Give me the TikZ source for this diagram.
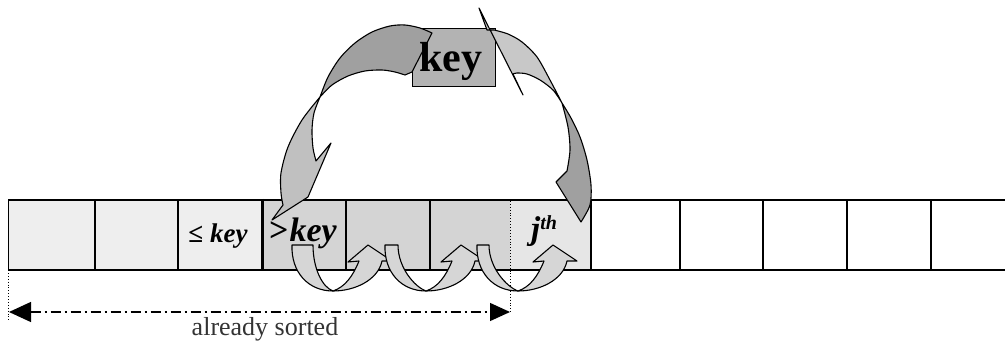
\documentclass[tikz,border=0pt]{standalone}
\usepackage{fontspec}
\setmainfont{Liberation Serif}
\usetikzlibrary{arrows.meta}
\definecolor{lightcell}{HTML}{EEEEEE}
\definecolor{midcell}{HTML}{D4D4D4}
\definecolor{jcell}{HTML}{E6E6E6}
\definecolor{keyfill}{HTML}{B3B3B3}
\definecolor{darkband}{HTML}{A0A0A0}
\definecolor{lightbandL}{HTML}{C0C0C0}
\definecolor{lightbandR}{HTML}{C8C8C8}
\definecolor{smallfill}{HTML}{D6D6D6}
\definecolor{sortgray}{HTML}{333333}
\begin{document}
\begin{tikzpicture}[x=1pt,y=-1pt,
  band/.style={draw=black,line width=1.1pt,line join=round},
  arrline/.style={draw=black,line width=1.6pt},
  uarrow/.style={draw=black,fill=smallfill,line width=1.1pt,line join=round},
  celltext/.style={anchor=base,inner sep=0pt},
  dotline/.style={draw=black,dotted,line width=0.9pt}]
\useasboundingbox (0,0) rectangle (1005,342);

% cell fills
\fill[lightcell] (8,200) rectangle (262,270);
\fill[midcell] (262,200) rectangle (510,270);
\fill[jcell] (510,200) rectangle (591,270);

% array lines
\draw[arrline] (8,200) -- (1005,200);
\draw[arrline] (8,270) -- (1005,270);
\foreach \x in {95,178,346,430,591,680,763,847,931} \draw[arrline] (\x,200) -- (\x,270);
\draw[draw=black,line width=3pt] (262,199) -- (262,271);
\draw[draw=black,line width=1pt] (8,200) -- (8,270);
\draw[dotline] (510,201) -- (510,312);
\draw[dotline] (8,270) -- (8,320);

% small U-turn arrows
\foreach \dx/\tw in {0/21,93/13,185/12} {
  \begin{scope}[shift={(\dx,0)}]
    \pgfmathsetmacro{\bx}{292+\tw}
    \path[uarrow] (359,261) .. controls (353,276) and (345,287) .. (333,291)
      .. controls (355,291) and (378,280) .. (382,261) -- (392,261) -- (368,245) -- (348,262) -- cycle;
    \path[uarrow] (292,245) .. controls (291,272) and (308,291) .. (333,291)
      .. controls (322,287) and (\bx,268) .. (\bx,245) -- cycle;
  \end{scope}
}

% key box
\node[draw=black,line width=1pt,fill=keyfill,minimum width=83pt,minimum height=58pt,inner sep=0pt] (keybox) at (453.5,58) {};

% left big arrow (dark upper part)
\path[band,fill=darkband] plot[smooth] coordinates {(432,33) (420,28) (405,25) (390,26) (372,32) (355,43) (340,58) (328,77) (320,97)}
  -- plot[smooth] coordinates {(320,97) (332,85) (348,76) (365,71) (382,70) (395,72) (405,75)} -- (412,72) -- cycle;
% left big arrow (light lower part)
\path[band,fill=lightbandL] plot[smooth] coordinates {(320,97) (302,120) (288,147) (281,173) (281,193) (283,205)}
  -- (272,220) -- (308,197) -- (331,143) -- (316,161)
  -- plot[smooth] coordinates {(316,161) (313,148) (312,130) (314,113) (320,97)} -- cycle;

% right big arrow (light upper part)
\path[band,fill=lightbandR] (479,8) -- (487,30) -- plot[smooth] coordinates {(494,30) (508,34) (522,42) (537,57) (550,80) (562,103)}
  -- plot[smooth] coordinates {(562,103) (553,90) (540,80) (527,74) (517,73) (513,74)} -- (523,95) -- cycle;
% right big arrow (dark lower part)
\path[band,fill=darkband] plot[smooth] coordinates {(562,103) (571,118) (580,137) (587,160) (591,185) (590,205) (581,222)}
  -- (556,182) -- (567,171) -- plot[smooth] coordinates {(567,171) (570,150) (568,127) (562,103)} -- cycle;

% texts
\node[celltext,font=\bfseries\fontsize{42}{42}\selectfont] (keytext) at (451,72) {key};
\node[celltext,font=\bfseries\fontsize{27}{27}\selectfont] (lekey) at (218,243) {≤ \textit{key}};
\node[celltext,font=\bfseries\fontsize{34}{34}\selectfont] (gtkey) at (303,242) {>\kern1pt\textit{key}};
\node[celltext,font=\bfseries\fontsize{33}{33}\selectfont] (jth) at (544,240) {\textit{j}\raisebox{10pt}{\fontsize{20}{20}\selectfont\textit{th}}};

% already sorted
\coordinate (sortL) at (9,312);
\coordinate (sortR) at (510,312);
\draw[line width=1.3pt,dash pattern=on 10pt off 4pt on 2pt off 4pt,
  {Triangle[length=22pt,width=20pt]}-{Triangle[length=20pt,width=18pt]}] (sortL) -- (sortR);
\node[celltext,font=\fontsize{26}{26}\selectfont,text=sortgray] (sortlabel) at (265,335) {already sorted};
\end{tikzpicture}
\end{document}
